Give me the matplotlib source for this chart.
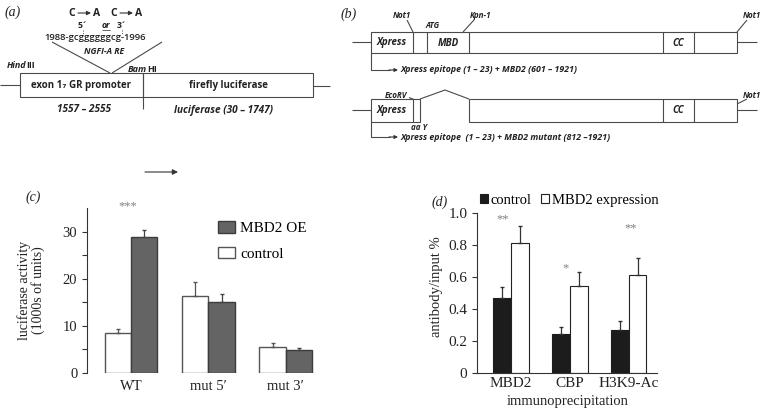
import matplotlib.pyplot as plt
from matplotlib.patches import Rectangle, Patch

# panel (c) luciferase assay
c_groups = ['WT', 'mut 5\u2032', 'mut 3\u2032']
c_control = [8.4, 16.4, 5.6]
c_control_err = [0.9, 2.9, 0.8]
c_oe = [28.9, 15.0, 4.9]
c_oe_err = [1.5, 1.7, 0.4]

# panel (d) ChIP
d_groups = ['MBD2', 'CBP', 'H3K9-Ac']
d_control = [0.47, 0.243, 0.268]
d_control_err = [0.069, 0.043, 0.058]
d_expr = [0.815, 0.541, 0.61]
d_expr_err = [0.104, 0.088, 0.106]
d_stars = ['**', '*', '**']
d_star_x = [-0.14, 0.93, 2.03]
d_star_y = [0.96, 0.655, 0.905]

# schematic pieces (pixel layout of the drawing)
a_boxes = [(20, 143, 'exon 1\u2087 GR promoter'), (143, 313, 'firefly luciferase')]
b_top_edges = [371, 413, 427, 469, 663, 694, 737]
b_top_labels = [(392, 'Xpress'), (448, 'MBD'), (678, 'CC')]

line_c = '#4a4a4a'
txt_c = '#222222'
sans = ['Open Sans', 'DejaVu Sans']
serif = 'Liberation Serif'

fig = plt.figure(figsize=(7.63, 4.08), dpi=100)
ax0 = fig.add_axes([0, 0, 1, 1])
ax0.set_xlim(0, 763)
ax0.set_ylim(408, 0)
ax0.axis('off')


def t(x, y, s, size=6.5, ha='center', style='normal', weight='bold', **kw):
    ax0.text(x, y, s, fontsize=size, ha=ha, va='center', style=style,
             weight=weight, family=sans, color=txt_c, **kw)


def ln(xs, ys, lw=0.8, **kw):
    ax0.plot(xs, ys, color=line_c, lw=lw, solid_capstyle='butt', **kw)


def arrow(x0, y0, x1, y1, ms=6):
    ax0.annotate('', xy=(x1, y1), xytext=(x0, y0),
                 arrowprops=dict(arrowstyle='-|>', color='#333333', lw=0.8,
                                 mutation_scale=ms, shrinkA=0, shrinkB=0))


# ---------- (a) ----------
ax0.text(13, 12, '(a)', fontsize=10, family=serif, style='italic', ha='center', va='center', color=txt_c)
for cx in (72, 114):
    t(cx, 13, 'C', size=7.5)
    arrow(cx + 6, 13, cx + 19, 13)
    t(cx + 25, 13, 'A', size=7.5)
t(83, 25, '5\u00b4', size=6.2)
t(106, 25, 'or', size=6.2, style='italic')
ln([102, 110], [30, 30], lw=0.6)
t(122, 25, '3\u00b4', size=6.2)
ln([83, 83], [30, 35], ls=':', lw=0.7)
ln([122, 122], [30, 35], ls=':', lw=0.7)
t(95, 37, '1988-gcggggggcg-1996', size=6.8, weight='semibold')
ln([52, 110], [42, 73])
ln([162, 112], [42, 73])
t(104, 52, 'NGFI-A RE', size=6.2, style='italic')
t(26, 65, 'Hind', size=6.5, ha='right', style='italic')
t(26.5, 65, 'III', size=6.5, ha='left')
t(147, 69, 'Bam', size=6.5, ha='right', style='italic')
t(147.5, 69, 'HI', size=6.5, ha='left')
for x0, x1, lab in a_boxes:
    ax0.add_patch(Rectangle((x0, 73), x1 - x0, 24, fill=False, ec=line_c, lw=0.8))
    t((x0 + x1) / 2, 85.5, lab, size=7)
ln([143, 143], [97, 109])
ln([0, 20], [85, 85])
ln([313, 330], [86, 86])
t(84, 110, '1557 \u2013 2555', size=7.2, style='italic')
t(224, 110, 'luciferase (30 \u2013 1747)', size=7.2, style='italic')
arrow(145, 172, 178, 172, ms=8)

# ---------- (b) ----------
ax0.text(349, 14, '(b)', fontsize=10, family=serif, style='italic', ha='center', va='center', color=txt_c)
ax0.add_patch(Rectangle((b_top_edges[0], 32), b_top_edges[-1] - b_top_edges[0], 21,
                        fill=False, ec=line_c, lw=0.8))
for xe in b_top_edges[1:-1]:
    ln([xe, xe], [32, 53])
for cx, lab in b_top_labels:
    t(cx, 43, lab, size=7, style='italic')
ln([352, 371], [42, 42])
ln([737, 757], [42, 42])
t(402, 15, 'Not1', size=5.8, style='italic')
ln([407, 413], [20, 32])
t(433, 26, 'ATG', size=5.8, style='italic')
t(481, 15, 'Kpn-1', size=5.8, style='italic')
ln([474, 463], [20, 32])
t(752, 15, 'Not1', size=5.8, style='italic')
ln([747, 737], [20, 32])
ln([371, 371, 390], [53, 70, 70])
arrow(389, 70, 398, 70, ms=5)
t(400, 70, 'Xpress epitope (1 \u2013 23) + MBD2 (601 \u2013 1921)', size=6.3, ha='left', style='italic')

# mutant construct
ax0.add_patch(Rectangle((371, 99), 49, 23, fill=False, ec=line_c, lw=0.8))
ln([413, 413], [99, 122])
ln([420, 445, 469], [99, 90, 99])
ax0.add_patch(Rectangle((469, 99), 268, 23, fill=False, ec=line_c, lw=0.8))
for xe in (663, 694):
    ln([xe, xe], [99, 122])
t(392, 110.5, 'Xpress', size=7, style='italic')
t(678, 110.5, 'CC', size=7, style='italic')
ln([352, 371], [110, 110])
ln([737, 757], [110, 110])
t(396, 95, 'EcoRV', size=5.8, style='italic')
ln([409, 414], [97.5, 99.5])
t(752, 95, 'Not1', size=5.8, style='italic')
ln([747, 737], [99, 104])
t(419, 127, 'aa Y', size=5.8, style='italic')
ln([371, 371, 390], [122, 137, 137])
arrow(389, 137, 398, 137, ms=5)
t(400, 137, 'Xpress epitope  (1 \u2013 23) + MBD2 mutant (812 \u20131921)', size=6.3, ha='left', style='italic')

# ---------- (c) ----------
axc = fig.add_axes([87 / 763, 35 / 408, 233 / 763, 165 / 408])
w = 0.342
xs = range(len(c_groups))
axc.bar([x - w / 2 for x in xs], c_control, w, color='white', edgecolor='#555555', lw=1.0,
        yerr=[[0] * 3, c_control_err], capsize=1.5, error_kw=dict(lw=0.9, ecolor='#555555'))
axc.bar([x + w / 2 for x in xs], c_oe, w, color='#646464', edgecolor='#3c3c3c', lw=1.0,
        yerr=[[0] * 3, c_oe_err], capsize=1.5, error_kw=dict(lw=0.9, ecolor='#444444'))
axc.set_xlim(-0.568, 2.44)
axc.set_ylim(0, 35)
axc.set_yticks([0, 10, 20, 30])
axc.set_yticks([5, 15, 25], minor=True)
axc.set_xticks(list(xs))
axc.set_xticklabels(c_groups)
axc.tick_params(axis='x', length=0, pad=5)
axc.tick_params(axis='y', which='both', length=3.5, width=0.8, direction='out', colors='#333333')
for s in ('top', 'right', 'bottom'):
    axc.spines[s].set_visible(False)
axc.spines['left'].set_color('#333333')
axc.spines['left'].set_linewidth(0.8)
for lab in axc.get_xticklabels() + axc.get_yticklabels():
    lab.set_family(serif)
    lab.set_fontsize(10.5)
    lab.set_color(txt_c)
axc.set_ylabel('luciferase activity\n(1000s of units)', family=serif, fontsize=10,
               color=txt_c, linespacing=1.0)
axc.yaxis.set_label_coords(-0.18, 0.5)
axc.text(-0.04, 35.3, '***', family=serif, fontsize=9, color='#808080', ha='center', va='center')
axc.legend(handles=[Patch(fc='#646464', ec='#3c3c3c', label='MBD2 OE'),
                    Patch(fc='white', ec='#555555', label='control')],
           loc='upper left', bbox_to_anchor=(218 / 763, 1 - 221 / 408), bbox_transform=fig.transFigure,
           frameon=False, prop={'family': serif, 'size': 11}, handlelength=1.1, handleheight=0.8,
           handletextpad=0.35, labelspacing=0.75, borderpad=0, borderaxespad=0)
ax0.text(33, 197, '(c)', fontsize=10, family=serif, style='italic', ha='center', va='center', color=txt_c)

# ---------- (d) ----------
axd = fig.add_axes([477 / 763, 35 / 408, 180 / 763, 160 / 408])
wd = 0.297
xd = range(len(d_groups))
axd.bar([x - wd / 2 for x in xd], d_control, wd, color='#1c1c1c', edgecolor='#1c1c1c', lw=0.8,
        yerr=[[0] * 3, d_control_err], capsize=1.5, error_kw=dict(lw=0.9, ecolor='#333333'),
        label='control')
axd.bar([x + wd / 2 for x in xd], d_expr, wd, color='white', edgecolor='#222222', lw=0.8,
        yerr=[[0] * 3, d_expr_err], capsize=1.5, error_kw=dict(lw=0.9, ecolor='#333333'),
        label='MBD2 expression')
axd.set_xlim(-0.576, 2.475)
axd.set_ylim(0, 1.0)
axd.set_yticks([0, 0.2, 0.4, 0.6, 0.8, 1.0])
axd.set_yticklabels(['0', '0.2', '0.4', '0.6', '0.8', '1.0'])
axd.set_xticks(list(xd))
axd.set_xticklabels(d_groups)
axd.tick_params(axis='x', length=0, pad=3)
axd.tick_params(axis='y', length=3.5, width=0.8, direction='out', colors='#333333')
for s in ('top', 'right'):
    axd.spines[s].set_visible(False)
for s in ('left', 'bottom'):
    axd.spines[s].set_color('#333333')
    axd.spines[s].set_linewidth(0.8)
for lab in axd.get_xticklabels() + axd.get_yticklabels():
    lab.set_family(serif)
    lab.set_fontsize(11)
    lab.set_color(txt_c)
axd.set_ylabel('antibody/input %', family=serif, fontsize=10.5, color=txt_c)
axd.yaxis.set_label_coords(-0.19, 0.54)
axd.set_xlabel('immunoprecipitation', family=serif, fontsize=10.5, color=txt_c)
axd.xaxis.set_label_coords(0.505, -0.14)
for sx, sy, st in zip(d_star_x, d_star_y, d_stars):
    axd.text(sx, sy, st, family=serif, fontsize=9, color='#808080', ha='center', va='center')
axd.legend(loc='upper left', bbox_to_anchor=(480 / 763, 1 - 194 / 408), bbox_transform=fig.transFigure,
           ncol=2, frameon=False, prop={'family': serif, 'size': 10.5}, handlelength=0.55,
           handleheight=0.55, handletextpad=0.15, columnspacing=0.7, borderpad=0, borderaxespad=0)
ax0.text(440, 202, '(d)', fontsize=10, family=serif, style='italic', ha='center', va='center', color=txt_c)

fig.savefig('out.png', dpi=100)
